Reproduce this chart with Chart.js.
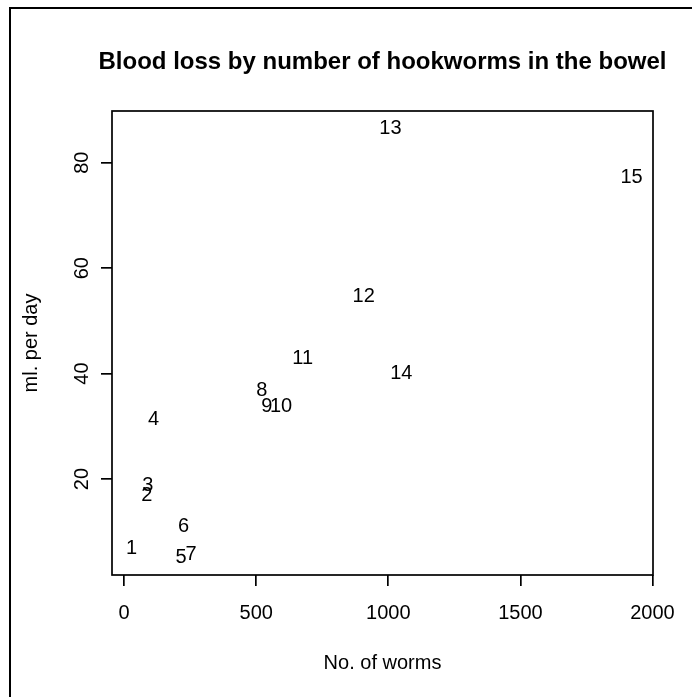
<!DOCTYPE html>
<html>
<head>
<meta charset="utf-8">
<title>Blood loss by number of hookworms</title>
<script src="https://cdn.jsdelivr.net/npm/chart.js@4.4.1/dist/chart.umd.min.js"></script>
<style>
  html, body { margin: 0; padding: 0; background: #fff; }
  #wrap { width: 692px; height: 697px; }
</style>
</head>
<body>
<div id="wrap"><canvas id="wormChart" width="692" height="697"></canvas></div>
<script>
// case numbers used as plotting symbols
const caseLabels = ['1', '2', '3', '4', '5', '6', '7', '8', '9', '10', '11', '12', '13', '14', '15'];
// number of hookworms in the bowel
const worms = [28, 86, 90, 111, 215, 225, 253, 521, 540, 594, 676, 907, 1008, 1049, 1921];
// blood loss, ml per day
const bloodLoss = [6.9, 16.8, 18.7, 31.2, 5.1, 11.0, 5.6, 36.8, 33.7, 33.7, 42.9, 54.6, 86.5, 40.0, 77.2];

const xTicks = [0, 500, 1000, 1500, 2000];
const yTicks = [20, 40, 60, 80];

const chartTitle = 'Blood loss by number of hookworms in the bowel';
const FONT = '"Liberation Sans", Arial, Helvetica, sans-serif';

// R-like decorations: plot box, outer frame, main title, rotated y labels, text symbols
const rStylePlugin = {
  id: 'rStyle',
  beforeDraw(chart) {
    const ctx = chart.ctx;
    ctx.save();
    ctx.fillStyle = '#fff';
    ctx.fillRect(0, 0, chart.width, chart.height);
    ctx.restore();
  },
  afterDatasetsDraw(chart) {
    const ctx = chart.ctx;
    const meta = chart.getDatasetMeta(0);
    ctx.save();
    ctx.font = '20px ' + FONT;
    ctx.fillStyle = '#000';
    ctx.textAlign = 'center';
    ctx.textBaseline = 'middle';
    meta.data.forEach((pt, i) => {
      ctx.fillText(caseLabels[i], pt.x, pt.y);
    });
    ctx.restore();
  },
  afterDraw(chart) {
    const { ctx, chartArea: a, scales } = chart;
    ctx.save();
    ctx.strokeStyle = '#000';
    ctx.lineWidth = 1.7;
    ctx.strokeRect(a.left, a.top, a.right - a.left, a.bottom - a.top);

    // outer frame, only left and top edges fall inside the picture
    ctx.lineWidth = 2;
    ctx.beginPath();
    ctx.moveTo(10, chart.height);
    ctx.lineTo(10, 8);
    ctx.lineTo(chart.width, 8);
    ctx.stroke();

    ctx.fillStyle = '#000';
    ctx.font = 'bold 24px ' + FONT;
    ctx.textAlign = 'center';
    ctx.textBaseline = 'alphabetic';
    ctx.fillText(chartTitle, (a.left + a.right) / 2, 69);

    ctx.font = '20px ' + FONT;
    ctx.textBaseline = 'middle';
    yTicks.forEach(v => {
      const y = scales.y.getPixelForValue(v);
      ctx.save();
      ctx.translate(82, y);
      ctx.rotate(-Math.PI / 2);
      ctx.fillText(String(v), 0, 0);
      ctx.restore();
    });
    ctx.restore();
  }
};

const tickGrid = {
  display: true,
  drawOnChartArea: false,
  drawTicks: true,
  tickLength: 11,
  color: '#000',
  lineWidth: 1.7
};

new Chart(document.getElementById('wormChart'), {
  type: 'scatter',
  data: {
    datasets: [{
      label: 'ml. per day',
      data: worms.map((w, i) => ({ x: w, y: bloodLoss[i] })),
      pointRadius: 0,
      pointHoverRadius: 0,
      showLine: false
    }]
  },
  options: {
    responsive: false,
    animation: false,
    devicePixelRatio: 1,
    layout: { padding: { top: 111, right: 39, left: 0, bottom: 0 } },
    plugins: {
      legend: { display: false },
      tooltip: { enabled: false },
      title: { display: false }
    },
    scales: {
      x: {
        type: 'linear',
        min: -46,
        max: 2002,
        afterBuildTicks: s => { s.ticks = xTicks.map(v => ({ value: v })); },
        afterFit: s => { s.height = 122; },
        ticks: {
          color: '#000',
          font: { family: FONT, size: 20 },
          padding: 15,
          maxRotation: 0,
          autoSkip: false,
          callback: v => String(v)
        },
        grid: tickGrid,
        border: { display: false },
        title: {
          display: true,
          text: 'No. of worms',
          color: '#000',
          font: { family: FONT, size: 20 },
          padding: { top: 0, bottom: 22 }
        }
      },
      y: {
        type: 'linear',
        min: 1.8,
        max: 89.8,
        afterBuildTicks: s => { s.ticks = yTicks.map(v => ({ value: v })); },
        afterFit: s => { s.width = 112; },
        ticks: { display: false },
        grid: tickGrid,
        border: { display: false },
        title: {
          display: true,
          text: 'ml. per day',
          color: '#000',
          font: { family: FONT, size: 20 },
          padding: { top: 19, bottom: 0 }
        }
      }
    }
  },
  plugins: [rStylePlugin]
});
</script>
</body>
</html>
